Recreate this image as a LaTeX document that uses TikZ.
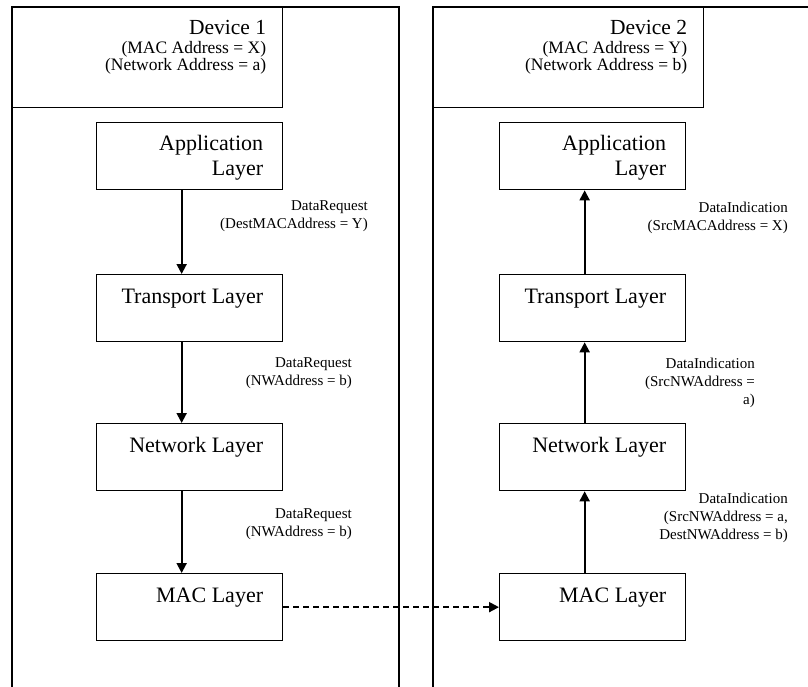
\documentclass[tikz,border=0pt]{standalone}
\usepackage{fontspec}
\setmainfont{Liberation Serif}
\usetikzlibrary{arrows.meta,calc}
\begin{document}
\begin{tikzpicture}[x=1pt,y=-1pt,
  frame/.style={line width=1.3pt},
  hdrbox/.style={draw,line width=1.3pt,minimum width=270pt,minimum height=100pt,inner sep=0pt,anchor=north west},
  layer/.style={draw,line width=1.3pt,minimum width=186pt,minimum height=67pt,inner sep=0pt,anchor=north west},
  layertext/.style={anchor=base east,inner sep=0pt,font=\fontsize{22}{25}\selectfont},
  devtitle/.style={anchor=base east,inner sep=0pt,font=\fontsize{21.5}{24}\selectfont},
  addr/.style={anchor=base east,inner sep=0pt,font=\fontsize{17.5}{17}\selectfont},
  prim/.style={anchor=east,inner sep=0pt,font=\fontsize{15}{18}\selectfont,align=right},
  flow/.style={line width=2pt,-{Triangle[length=10pt,width=10pt]}},
  link/.style={flow,dash pattern=on 6pt off 4pt},
]
\useasboundingbox (0,0) rectangle (808,687);

% device frames (open at the bottom / right)
\draw[frame] (12,700) -- (12,7) -- (399,7) -- (399,700);
\draw[frame] (433,700) -- (433,7) -- (820,7);

% device headers
\node[hdrbox] (hd1) at (12,7) {};
\node[hdrbox] (hd2) at (433,7) {};
\node[devtitle] (hd1t) at ($(hd1.north east)+(-17,28)$) {Device 1};
\node[addr] (hd1a) at ($(hd1.north east)+(-17,47)$) {(MAC Address = X)};
\node[addr] (hd1b) at ($(hd1.north east)+(-17,64)$) {(Network Address = a)};
\node[devtitle] (hd2t) at ($(hd2.north east)+(-17,28)$) {Device 2};
\node[addr] (hd2a) at ($(hd2.north east)+(-17,47)$) {(MAC Address = Y)};
\node[addr] (hd2b) at ($(hd2.north east)+(-17,64)$) {(Network Address = b)};

% protocol stacks
\foreach \i/\x in {1/96,2/499}{
  \node[layer] (app\i) at (\x,122) {};
  \node[layer] (tr\i)  at (\x,274) {};
  \node[layer] (nw\i)  at (\x,423) {};
  \node[layer] (mac\i) at (\x,573) {};
  \node[layertext] (app\i a) at ($(app\i.north east)+(-20,29)$) {Application};
  \node[layertext] (app\i b) at ($(app\i.north east)+(-20,54)$) {Layer};
  \node[layertext] (tr\i t)  at ($(tr\i.north east)+(-20,29)$) {Transport Layer};
  \node[layertext] (nw\i t)  at ($(nw\i.north east)+(-20,29)$) {Network Layer};
  \node[layertext] (mac\i t) at ($(mac\i.north east)+(-20,29)$) {MAC Layer};
}

% sending side
\draw[flow] ([xshift=-8pt]app1.south) -- ([xshift=-8pt]tr1.north);
\draw[flow] ([xshift=-8pt]tr1.south) -- ([xshift=-8pt]nw1.north);
\draw[flow] ([xshift=-8pt]nw1.south) -- ([xshift=-8pt]mac1.north);

% receiving side
\draw[flow] ([xshift=-8pt]mac2.north) -- ([xshift=-8pt]nw2.south);
\draw[flow] ([xshift=-8pt]nw2.north) -- ([xshift=-8pt]tr2.south);
\draw[flow] ([xshift=-8pt]tr2.north) -- ([xshift=-8pt]app2.south);

% over the air
\draw[link] (mac1.east) -- (mac2.west);

% primitive labels
\node[prim] (p1) at (368,216) {DataRequest\\(DestMACAddress = Y)};
\node[prim] (p2) at (352,373) {DataRequest\\(NWAddress = b)};
\node[prim] (p3) at (352,524) {DataRequest\\(NWAddress = b)};
\node[prim] (q1) at (788,218) {DataIndication\\(SrcMACAddress = X)};
\node[prim] (q2) at (755,383) {DataIndication\\(SrcNWAddress =\\a)};
\node[prim] (q3) at (788,518) {DataIndication\\(SrcNWAddress = a,\\DestNWAddress = b)};
\end{tikzpicture}
\end{document}
